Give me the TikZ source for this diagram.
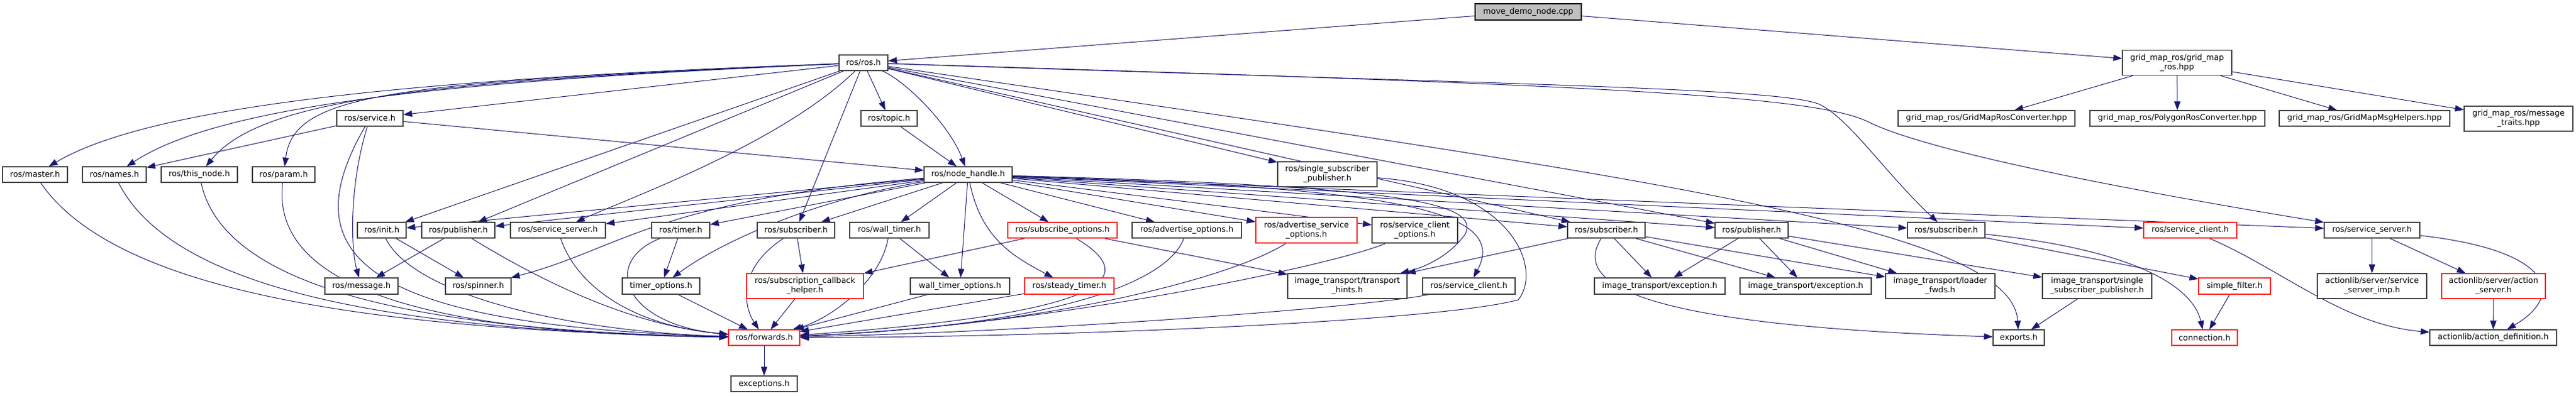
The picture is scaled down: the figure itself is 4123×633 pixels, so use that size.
\documentclass[tikz,border=0pt]{standalone}
\usepackage{fontspec}
\setmainfont{DejaVu Sans}
\usetikzlibrary{arrows.meta}
\pgfdeclarelayer{bg}
\pgfsetlayers{bg,main}
\definecolor{edgec}{HTML}{191970}
\definecolor{boxc}{HTML}{404040}
\definecolor{redc}{HTML}{FF2020}
\definecolor{rootfill}{HTML}{BFBFBF}
\begin{document}
\begin{tikzpicture}[x=1pt,y=-1pt,
  nd/.style={draw=boxc, line width=1.1pt, fill=white, inner sep=0pt, minimum height=25pt, font=\fontsize{12.8}{15}\selectfont, align=center},
  tl/.style={minimum height=40pt},
  rd/.style={nd, draw=redc},
  dep/.style={draw=edgec, line width=1pt, -{Triangle[length=14pt,width=10pt]}}]
\useasboundingbox (0,0) rectangle (4123,633);
% row 0
\node[nd, fill=rootfill, draw=black, minimum width=170pt, minimum height=26pt] (root) at (2446,19) {move\_demo\_node.cpp};
% row 1
\node[nd, minimum width=78pt] (rosh) at (1382,100.5) {ros/ros.h};
\node[nd, tl, minimum width=175pt] (gmr) at (3484.5,100.5) {grid\_map\_ros/grid\_map\\\_ros.hpp};
% row 2
\node[nd, minimum width=106pt] (service) at (592,189.5) {ros/service.h};
\node[nd, minimum width=90pt] (topic) at (1423,189.5) {ros/topic.h};
\node[nd, minimum width=283pt] (gmrc) at (3179.5,189.5) {grid\_map\_ros/GridMapRosConverter.hpp};
\node[nd, minimum width=280pt] (polygon) at (3485,189.5) {grid\_map\_ros/PolygonRosConverter.hpp};
\node[nd, minimum width=273pt] (msgh) at (3784.5,189.5) {grid\_map\_ros/GridMapMsgHelpers.hpp};
\node[nd, tl, minimum width=174pt] (traits) at (4031,190) {grid\_map\_ros/message\\\_traits.hpp};
% row 3
\node[nd, minimum width=104pt] (master) at (56,279.5) {ros/master.h};
\node[nd, minimum width=102pt] (names) at (183,279.5) {ros/names.h};
\node[nd, minimum width=122pt] (thisnode) at (319,279.5) {ros/this\_node.h};
\node[nd, minimum width=100pt] (param) at (454,279.5) {ros/param.h};
\node[nd, minimum width=141pt] (nh) at (1549.5,279.5) {ros/node\_handle.h};
\node[nd, tl, minimum width=159pt] (ssp) at (2124.5,279) {ros/single\_subscriber\\\_publisher.h};
% row 4
\node[nd, minimum width=78pt] (init) at (611,368.5) {ros/init.h};
\node[nd, minimum width=117pt] (pubA) at (733.5,368.5) {ros/publisher.h};
\node[nd, minimum width=152pt] (ssA) at (893,368.5) {ros/service\_server.h};
\node[nd, minimum width=93pt] (timer) at (1089.5,368.5) {ros/timer.h};
\node[nd, minimum width=124pt] (subA) at (1274,368.5) {ros/subscriber.h};
\node[nd, minimum width=127pt] (wt) at (1423.5,368.5) {ros/wall\_timer.h};
\node[rd, minimum width=175pt] (subo) at (1700.5,368.5) {ros/subscribe\_options.h};
\node[nd, minimum width=175pt] (advo) at (1899.5,368.5) {ros/advertise\_options.h};
\node[rd, tl, minimum width=162pt, minimum height=41pt] (advso) at (2091,368.5) {ros/advertise\_service\\\_options.h};
\node[nd, tl, minimum width=137pt, minimum height=41pt] (scopt) at (2264.5,368.5) {ros/service\_client\\\_options.h};
\node[nd, minimum width=124pt] (subB) at (2571,368.5) {ros/subscriber.h};
\node[nd, minimum width=117pt] (pubB) at (2803.5,368.5) {ros/publisher.h};
\node[nd, minimum width=124pt] (subC) at (3115,368.5) {ros/subscriber.h};
\node[rd, minimum width=149pt] (scred) at (3505.5,368.5) {ros/service\_client.h};
\node[nd, minimum width=153pt] (ssB) at (3796.5,368.5) {ros/service\_server.h};
% row 5
\node[nd, minimum width=117pt, minimum height=26pt] (message) at (578.5,458) {ros/message.h};
\node[nd, minimum width=105pt, minimum height=26pt] (spinner) at (765.5,458) {ros/spinner.h};
\node[nd, minimum width=124pt, minimum height=26pt] (topt) at (1058,458) {timer\_options.h};
\node[rd, tl, minimum width=187pt] (sch) at (1288.5,458) {ros/subscription\_callback\\\_helper.h};
\node[nd, minimum width=159pt, minimum height=26pt] (wto) at (1536.5,458) {wall\_timer\_options.h};
\node[rd, minimum width=143pt, minimum height=26pt] (steady) at (1711.5,458) {ros/steady\_timer.h};
\node[nd, tl, minimum width=191pt] (th) at (2156.5,458) {image\_transport/transport\\\_hints.h};
\node[nd, minimum width=148pt, minimum height=26pt] (scb) at (2351,458) {ros/service\_client.h};
\node[nd, minimum width=209pt, minimum height=26pt] (excA) at (2656.5,458) {image\_transport/exception.h};
\node[nd, minimum width=210pt, minimum height=26pt] (excB) at (2890,458) {image\_transport/exception.h};
\node[nd, tl, minimum width=175pt] (loader) at (3105.5,458) {image\_transport/loader\\\_fwds.h};
\node[nd, tl, minimum width=175pt] (sspimg) at (3356.5,458) {image\_transport/single\\\_subscriber\_publisher.h};
\node[rd, minimum width=115pt, minimum height=26pt] (sfilter) at (3576.5,458) {simple\_filter.h};
\node[nd, tl, minimum width=175pt] (ssi) at (3796.5,458) {actionlib/server/service\\\_server\_imp.h};
\node[rd, tl, minimum width=166pt] (aserver) at (3991,458) {actionlib/server/action\\\_server.h};
% row 6
\node[rd, minimum width=114pt] (fw) at (1223,540.5) {ros/forwards.h};
\node[nd, minimum width=82pt] (exports) at (3231,540.5) {exports.h};
\node[rd, minimum width=105pt] (conn) at (3528.5,540.5) {connection.h};
\node[nd, minimum width=203pt] (adef) at (3990.5,540.5) {actionlib/action\_definition.h};
% row 7
\node[nd, minimum width=106pt] (exc) at (1223,614.5) {exceptions.h};

\begin{pgfonlayer}{bg}
\draw[dep] (root) -- (rosh);
\draw[dep] (root) -- (gmr);
% ros.h
\draw[dep] (rosh) .. controls (700,125) and (250,165) .. (master);
\draw[dep] (rosh) .. controls (700,130) and (350,170) .. (names);
\draw[dep] (rosh) .. controls (700,130) and (420,155) .. (thisnode);
\draw[dep] (rosh) .. controls (620,132) and (470,150) .. (param);
\draw[dep] (rosh) -- (service);
\draw[dep] (rosh) -- (init);
\draw[dep] (rosh) -- (pubA);
\draw[dep] (rosh) .. controls (1250,230) and (1000,320) .. (ssA);
\draw[dep] (rosh) -- (subA);
\draw[dep] (rosh) -- (topic);
\draw[dep] (rosh) .. controls (1450,130) and (1520,200) .. (nh);
\draw[dep] (rosh) -- (ssp);
\draw[dep] (rosh) -- (subB);
\draw[dep] (rosh) -- (pubB);
\draw[dep] (rosh) .. controls (2600,280) and (3220,360) .. (exports);
\draw[dep] (rosh) .. controls (2400,135) and (2850,140) .. (2912,167) .. controls (2960,190) and (3020,280) .. (subC);
\draw[dep] (rosh) .. controls (2500,135) and (2900,150) .. (2990,195) .. controls (3100,250) and (3500,320) .. (ssB);
% service.h
\draw[dep] (service) -- (names);
\draw[dep] (service) -- (nh);
\draw[dep] (service) .. controls (558,300) and (562,400) .. (message);
\draw[dep] (service) .. controls (470,400) and (560,520) .. (fw);
% topic
\draw[dep] (topic) -- (nh);
% left row to forwards
\draw[dep] (master) .. controls (180,460) and (560,528) .. (fw);
\draw[dep] (names) .. controls (280,470) and (650,530) .. (fw);
\draw[dep] (thisnode) .. controls (360,470) and (700,530) .. (fw);
\draw[dep] (param) .. controls (430,480) and (750,535) .. (fw);
% node_handle
\draw[dep] (nh) -- (init);
\draw[dep] (nh) -- (pubA);
\draw[dep] (nh) -- (ssA);
\draw[dep] (nh) .. controls (1050,320) and (990,400) .. (spinner);
\draw[dep] (nh) -- (timer);
\draw[dep] (nh) .. controls (1300,320) and (1150,390) .. (topt);
\draw[dep] (nh) -- (subA);
\draw[dep] (nh) -- (wt);
\draw[dep] (nh) -- (wto);
\draw[dep] (nh) -- (subo);
\draw[dep] (nh) .. controls (1570,380) and (1620,410) .. (steady);
\draw[dep] (nh) -- (advo);
\draw[dep] (nh) -- (advso);
\draw[dep] (nh) -- (scopt);
\draw[dep] (nh) .. controls (2200,300) and (2420,330) .. (scb);
\draw[dep] (nh) .. controls (2250,298) and (2370,325) .. (2345,375) .. controls (2320,410) and (2280,428) .. (th);
\draw[dep] (nh) -- (subB);
\draw[dep] (nh) -- (pubB);
\draw[dep] (nh) -- (subC);
\draw[dep] (nh) -- (scred);
\draw[dep] (nh) -- (ssB);
% row 4 left
\draw[dep] (init) -- (spinner);
\draw[dep] (init) .. controls (660,470) and (900,530) .. (fw);
\draw[dep] (pubA) -- (message);
\draw[dep] (pubA) .. controls (850,440) and (1000,520) .. (fw);
\draw[dep] (ssA) .. controls (920,450) and (1000,520) .. (fw);
\draw[dep] (timer) -- (topt);
\draw[dep] (timer) .. controls (960,420) and (1000,520) .. (fw);
\draw[dep] (topt) -- (fw);
\draw[dep] (subA) -- (sch);
\draw[dep] (subA) .. controls (1180,430) and (1190,490) .. (fw);
\draw[dep] (sch) -- (fw);
\draw[dep] (wt) -- (wto);
\draw[dep] (wt) .. controls (1410,450) and (1330,510) .. (fw);
\draw[dep] (wto) -- (fw);
\draw[dep] (steady) -- (fw);
\draw[dep] (subo) -- (sch);
\draw[dep] (subo) -- (th);
\draw[dep] (subo) .. controls (1820,440) and (1800,500) .. (fw);
\draw[dep] (advo) .. controls (1870,450) and (1700,520) .. (fw);
\draw[dep] (advso) .. controls (1980,440) and (1700,520) .. (fw);
\draw[dep] (scopt) .. controls (2150,420) and (1700,520) .. (fw);
\draw[dep] (scb) .. controls (2200,490) and (1700,530) .. (fw);
\draw[dep] (ssp) .. controls (2420,300) and (2470,430) .. (2430,480) .. controls (2300,515) and (1700,540) .. (fw);
\draw[dep] (fw) -- (exc);
% image_transport
\draw[dep] (subB) -- (th);
\draw[dep] (subB) -- (excA);
\draw[dep] (subB) -- (excB);
\draw[dep] (subB) -- (loader);
\draw[dep] (subB) .. controls (2520,450) and (2600,520) .. (exports);
\draw[dep] (pubB) -- (excA);
\draw[dep] (pubB) -- (excB);
\draw[dep] (pubB) -- (loader);
\draw[dep] (pubB) -- (sspimg);
\draw[dep] (sspimg) -- (exports);
% message_filters / actionlib
\draw[dep] (subC) -- (sfilter);
\draw[dep] (subC) .. controls (3420,400) and (3510,460) .. (conn);
\draw[dep] (sfilter) -- (conn);
\draw[dep] (scred) .. controls (3650,430) and (3750,520) .. (adef);
\draw[dep] (ssB) -- (ssi);
\draw[dep] (ssB) -- (aserver);
\draw[dep] (ssB) .. controls (4080,400) and (4110,470) .. (adef);
\draw[dep] (aserver) -- (adef);
% grid_map
\draw[dep] (gmr) -- (gmrc);
\draw[dep] (gmr) -- (polygon);
\draw[dep] (gmr) -- (msgh);
\draw[dep] (gmr) -- (traits);
\end{pgfonlayer}
\end{tikzpicture}
\end{document}
